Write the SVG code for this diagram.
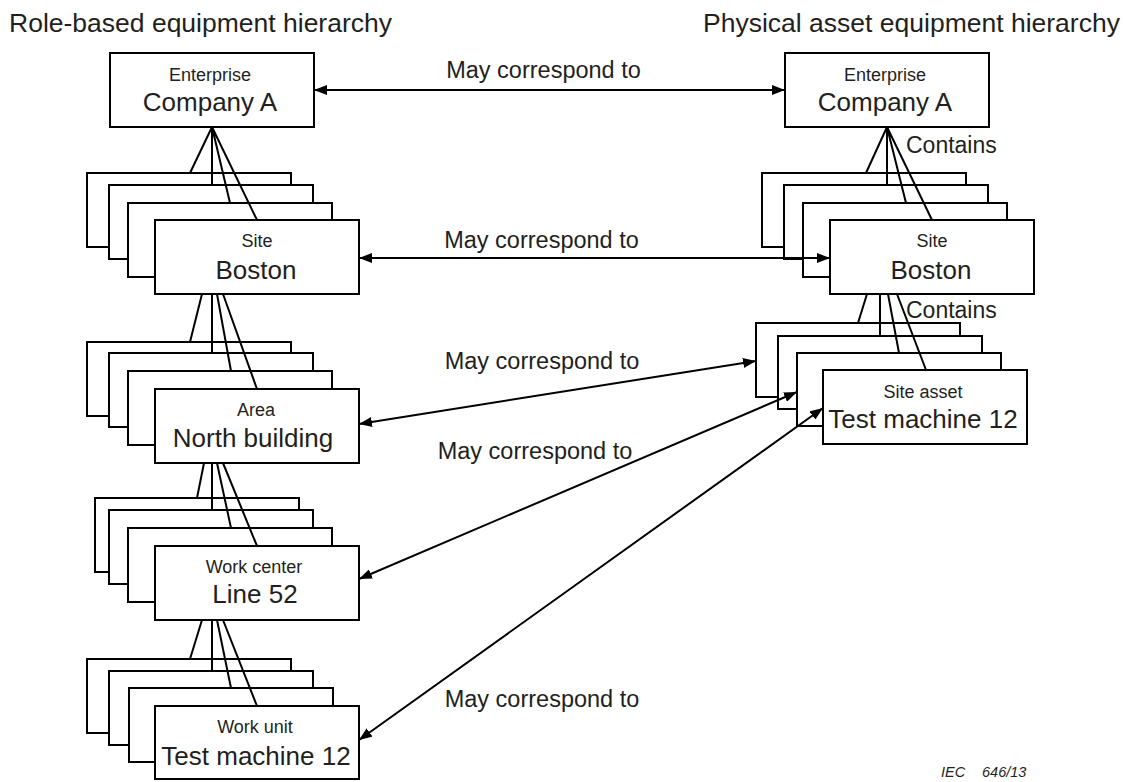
<svg xmlns="http://www.w3.org/2000/svg" width="1123" height="782" viewBox="0 0 1123 782">
<style>
  .box{fill:#fff;stroke:#000;stroke-width:2}
  .ln{stroke:#000;stroke-width:2;fill:none}
  .arr{stroke:#000;stroke-width:2;fill:none;marker-start:url(#ah);marker-end:url(#ah)}
  text{font-family:"Liberation Sans",Arial,sans-serif;fill:#231f20}
  .sm{font-size:18px;text-anchor:middle}
  .bg{font-size:26px;text-anchor:middle}
  .lbl{font-size:23.5px;text-anchor:middle}
  .ttl{font-size:26.5px;text-anchor:middle}
  .ct{font-size:23px}
  .iec{font-size:14.5px;font-style:italic}
</style>
<defs>
  <marker id="ah" viewBox="0 0 13 10" refX="13" refY="5" markerWidth="13" markerHeight="10" markerUnits="userSpaceOnUse" orient="auto-start-reverse">
    <path d="M0,0 L13,5 L0,10 z" fill="#000"/>
  </marker>
</defs>
<rect width="1123" height="782" fill="#fff"/>

<text class="ttl" x="200.5" y="32">Role-based equipment hierarchy</text>
<text class="ttl" x="911.5" y="32">Physical asset equipment hierarchy</text>

<g id="left-enterprise">
  <rect class="box" x="110" y="53" width="204" height="74"/>
  <text class="sm" x="210" y="81">Enterprise</text>
  <text class="bg" x="210" y="111">Company A</text>
</g>
<g id="left-site">
  <rect class="box" x="87" y="173" width="204" height="74"/>
  <rect class="box" x="109" y="185" width="204" height="74"/>
  <rect class="box" x="128" y="203" width="204" height="74"/>
  <rect class="box" x="155" y="220" width="204" height="74"/>
  <text class="sm" x="257" y="247">Site</text>
  <text class="bg" x="256" y="279">Boston</text>
</g>
<g id="left-area">
  <rect class="box" x="87" y="342" width="204" height="74"/>
  <rect class="box" x="109" y="353" width="204" height="74"/>
  <rect class="box" x="128" y="371" width="204" height="74"/>
  <rect class="box" x="155" y="389" width="204" height="74"/>
  <text class="sm" x="256" y="416">Area</text>
  <text class="bg" x="253" y="447">North building</text>
</g>
<g id="left-workcenter">
  <rect class="box" x="95" y="498" width="204" height="74"/>
  <rect class="box" x="109" y="510" width="204" height="74"/>
  <rect class="box" x="128" y="528" width="204" height="74"/>
  <rect class="box" x="155" y="546" width="204" height="74"/>
  <text class="sm" x="254" y="573">Work center</text>
  <text class="bg" x="255" y="603">Line 52</text>
</g>
<g id="left-workunit">
  <rect class="box" x="87" y="659" width="204" height="74"/>
  <rect class="box" x="109" y="671" width="204" height="74"/>
  <rect class="box" x="129" y="688" width="204" height="74"/>
  <rect class="box" x="155" y="706" width="204" height="73"/>
  <text class="sm" x="255" y="733">Work unit</text>
  <text class="bg" x="256" y="765">Test machine 12</text>
</g>

<g id="right-enterprise">
  <rect class="box" x="785" y="53" width="204" height="74"/>
  <text class="sm" x="885" y="81">Enterprise</text>
  <text class="bg" x="885" y="111">Company A</text>
</g>
<g id="right-site">
  <rect class="box" x="762" y="173" width="204" height="74"/>
  <rect class="box" x="784" y="185" width="204" height="74"/>
  <rect class="box" x="803" y="203" width="204" height="74"/>
  <rect class="box" x="830" y="220" width="204" height="74"/>
  <text class="sm" x="932" y="247">Site</text>
  <text class="bg" x="931" y="279">Boston</text>
</g>
<g id="right-siteasset">
  <rect class="box" x="756" y="323" width="204" height="74"/>
  <rect class="box" x="778" y="336" width="204" height="73"/>
  <rect class="box" x="797" y="353" width="204" height="73"/>
  <rect class="box" x="823" y="370" width="204" height="74"/>
  <text class="sm" x="923" y="398">Site asset</text>
  <text class="bg" x="923" y="428">Test machine 12</text>
</g>

<g id="connectors">
  <path class="ln" d="M212,127 L190,173 M212,127 L212,185 M212,127 L230,203 M212,127 L257,220"/>
  <path class="ln" d="M887,127 L866,173 M887,127 L887,185 M887,127 L906,203 M887,127 L932,220"/>
  <path class="ln" d="M202,294 L190,342 M212,294 L212,353 M217,294 L231,371 M223,294 L257,389"/>
  <path class="ln" d="M204,463 L197,498 M212,463 L212,510 M217,463 L231,528 M223,463 L257,546"/>
  <path class="ln" d="M202,620 L190,659 M212,620 L212,671 M217,620 L231,688 M223,620 L257,706"/>
  <path class="ln" d="M867,294 L858,323 M880,294 L880,336 M888,294 L899,353 M897,294 L926,370"/>

  <line class="arr" x1="314" y1="90" x2="785" y2="90"/>
  <line class="arr" x1="359" y1="258" x2="830" y2="258"/>
  <line class="arr" x1="359" y1="424" x2="756" y2="361"/>
  <line class="arr" x1="359" y1="579" x2="797" y2="392"/>
  <line class="arr" x1="359" y1="740" x2="823" y2="408"/>

  <text class="lbl" x="543.5" y="78">May correspond to</text>
  <text class="lbl" x="541.5" y="248">May correspond to</text>
  <text class="lbl" x="542" y="369">May correspond to</text>
  <text class="lbl" x="535" y="459">May correspond to</text>
  <text class="lbl" x="542" y="707">May correspond to</text>
  <text class="ct" x="906" y="153">Contains</text>
  <text class="ct" x="906" y="318">Contains</text>
</g>

<text class="iec" x="941" y="777">IEC</text>
<text class="iec" x="982" y="777">646/13</text>
</svg>
